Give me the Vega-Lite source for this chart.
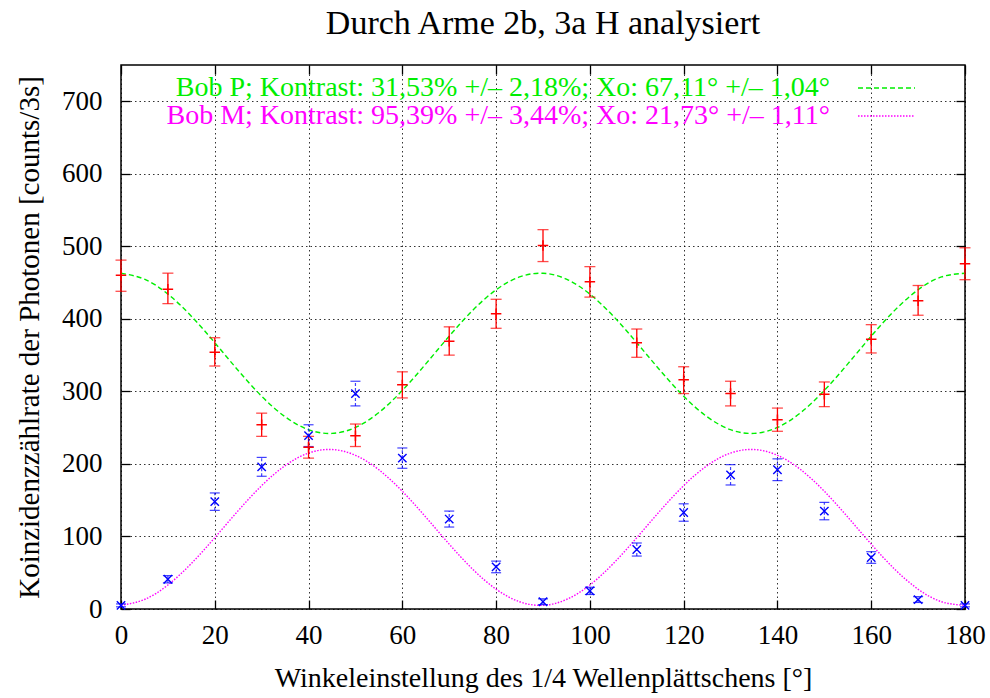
{
  "$schema": "https://vega.github.io/schema/vega-lite/v6.json",
  "width": 844,
  "height": 544,
  "autosize": {"type": "none"},
  "padding": {"left": 121, "top": 65, "right": 25, "bottom": 89},
  "background": "white",
  "title": {
    "text": "Durch Arme 2b, 3a H analysiert",
    "font": "Liberation Serif",
    "fontSize": 34,
    "fontWeight": "normal",
    "color": "black",
    "anchor": "middle",
    "baseline": "top",
    "offset": 23
  },
  "config": {
    "font": "Liberation Serif",
    "view": {"stroke": "black", "strokeWidth": 1.5},
    "scale": {"continuousPadding": 0},
    "axis": {
      "labelFont": "Liberation Serif",
      "labelFontSize": 27,
      "labelColor": "black",
      "labelFlush": false,
      "titleFont": "Liberation Serif",
      "titleFontSize": 28,
      "titleFontWeight": "normal",
      "titleColor": "black",
      "domain": false,
      "tickColor": "black",
      "tickSize": -9,
      "tickWidth": 1.3,
      "gridColor": "black",
      "gridDash": [1.5, 3],
      "gridOpacity": 0.8,
      "gridWidth": 1
    }
  },
  "datasets": {
    "pts": [
      {"angle": 0, "series": "P", "value": 460, "lo": 438, "hi": 481},
      {"angle": 10, "series": "P", "value": 441, "lo": 421, "hi": 463},
      {"angle": 20, "series": "P", "value": 354, "lo": 335, "hi": 374},
      {"angle": 30, "series": "P", "value": 254, "lo": 238, "hi": 270},
      {"angle": 40, "series": "P", "value": 223, "lo": 208, "hi": 238},
      {"angle": 50, "series": "P", "value": 239, "lo": 224, "hi": 255},
      {"angle": 60, "series": "P", "value": 309, "lo": 291, "hi": 327},
      {"angle": 70, "series": "P", "value": 369, "lo": 350, "hi": 389},
      {"angle": 80, "series": "P", "value": 407, "lo": 387, "hi": 427},
      {"angle": 90, "series": "P", "value": 501, "lo": 479, "hi": 523},
      {"angle": 100, "series": "P", "value": 451, "lo": 430, "hi": 472},
      {"angle": 110, "series": "P", "value": 367, "lo": 347, "hi": 386},
      {"angle": 120, "series": "P", "value": 316, "lo": 297, "hi": 334},
      {"angle": 130, "series": "P", "value": 297, "lo": 280, "hi": 314},
      {"angle": 140, "series": "P", "value": 261, "lo": 245, "hi": 277},
      {"angle": 150, "series": "P", "value": 296, "lo": 279, "hi": 313},
      {"angle": 160, "series": "P", "value": 372, "lo": 353, "hi": 392},
      {"angle": 170, "series": "P", "value": 425, "lo": 405, "hi": 446},
      {"angle": 180, "series": "P", "value": 476, "lo": 454, "hi": 498},
      {"angle": 0, "series": "M", "value": 5, "lo": 3, "hi": 7},
      {"angle": 10, "series": "M", "value": 41, "lo": 36, "hi": 46},
      {"angle": 20, "series": "M", "value": 148, "lo": 136, "hi": 160},
      {"angle": 30, "series": "M", "value": 196, "lo": 183, "hi": 209},
      {"angle": 40, "series": "M", "value": 239, "lo": 224, "hi": 254},
      {"angle": 50, "series": "M", "value": 297, "lo": 280, "hi": 314},
      {"angle": 60, "series": "M", "value": 208, "lo": 194, "hi": 222},
      {"angle": 70, "series": "M", "value": 124, "lo": 113, "hi": 135},
      {"angle": 80, "series": "M", "value": 58, "lo": 50, "hi": 66},
      {"angle": 90, "series": "M", "value": 10, "lo": 6, "hi": 14},
      {"angle": 100, "series": "M", "value": 25, "lo": 20, "hi": 30},
      {"angle": 110, "series": "M", "value": 82, "lo": 73, "hi": 91},
      {"angle": 120, "series": "M", "value": 133, "lo": 121, "hi": 145},
      {"angle": 130, "series": "M", "value": 185, "lo": 171, "hi": 199},
      {"angle": 140, "series": "M", "value": 192, "lo": 177, "hi": 207},
      {"angle": 150, "series": "M", "value": 135, "lo": 123, "hi": 147},
      {"angle": 160, "series": "M", "value": 71, "lo": 63, "hi": 79},
      {"angle": 170, "series": "M", "value": 13, "lo": 9, "hi": 17},
      {"angle": 180, "series": "M", "value": 5, "lo": 3, "hi": 7}
    ],
    "fit": [
      {"angle": 0, "series": "P", "value": 462.9},
      {"angle": 5, "series": "P", "value": 454.7},
      {"angle": 10, "series": "P", "value": 434.1},
      {"angle": 15, "series": "P", "value": 403.7},
      {"angle": 20, "series": "P", "value": 367.1},
      {"angle": 25, "series": "P", "value": 328.8},
      {"angle": 30, "series": "P", "value": 293.3},
      {"angle": 35, "series": "P", "value": 265.0},
      {"angle": 40, "series": "P", "value": 247.2},
      {"angle": 45, "series": "P", "value": 242.1},
      {"angle": 50, "series": "P", "value": 250.3},
      {"angle": 55, "series": "P", "value": 270.9},
      {"angle": 60, "series": "P", "value": 301.3},
      {"angle": 65, "series": "P", "value": 337.9},
      {"angle": 70, "series": "P", "value": 376.2},
      {"angle": 75, "series": "P", "value": 411.7},
      {"angle": 80, "series": "P", "value": 440.1},
      {"angle": 85, "series": "P", "value": 457.8},
      {"angle": 90, "series": "P", "value": 462.9},
      {"angle": 95, "series": "P", "value": 454.7},
      {"angle": 100, "series": "P", "value": 434.1},
      {"angle": 105, "series": "P", "value": 403.7},
      {"angle": 110, "series": "P", "value": 367.1},
      {"angle": 115, "series": "P", "value": 328.8},
      {"angle": 120, "series": "P", "value": 293.3},
      {"angle": 125, "series": "P", "value": 265.0},
      {"angle": 130, "series": "P", "value": 247.2},
      {"angle": 135, "series": "P", "value": 242.1},
      {"angle": 140, "series": "P", "value": 250.3},
      {"angle": 145, "series": "P", "value": 270.9},
      {"angle": 150, "series": "P", "value": 301.3},
      {"angle": 155, "series": "P", "value": 337.9},
      {"angle": 160, "series": "P", "value": 376.2},
      {"angle": 165, "series": "P", "value": 411.7},
      {"angle": 170, "series": "P", "value": 440.1},
      {"angle": 175, "series": "P", "value": 457.8},
      {"angle": 180, "series": "P", "value": 462.9},
      {"angle": 0, "series": "M", "value": 5.1},
      {"angle": 5, "series": "M", "value": 13.1},
      {"angle": 10, "series": "M", "value": 33.1},
      {"angle": 15, "series": "M", "value": 62.7},
      {"angle": 20, "series": "M", "value": 98.3},
      {"angle": 25, "series": "M", "value": 135.6},
      {"angle": 30, "series": "M", "value": 170.1},
      {"angle": 35, "series": "M", "value": 197.7},
      {"angle": 40, "series": "M", "value": 215.0},
      {"angle": 45, "series": "M", "value": 219.9},
      {"angle": 50, "series": "M", "value": 211.9},
      {"angle": 55, "series": "M", "value": 191.9},
      {"angle": 60, "series": "M", "value": 162.3},
      {"angle": 65, "series": "M", "value": 126.7},
      {"angle": 70, "series": "M", "value": 89.4},
      {"angle": 75, "series": "M", "value": 54.9},
      {"angle": 80, "series": "M", "value": 27.3},
      {"angle": 85, "series": "M", "value": 10.0},
      {"angle": 90, "series": "M", "value": 5.1},
      {"angle": 95, "series": "M", "value": 13.1},
      {"angle": 100, "series": "M", "value": 33.1},
      {"angle": 105, "series": "M", "value": 62.7},
      {"angle": 110, "series": "M", "value": 98.3},
      {"angle": 115, "series": "M", "value": 135.6},
      {"angle": 120, "series": "M", "value": 170.1},
      {"angle": 125, "series": "M", "value": 197.7},
      {"angle": 130, "series": "M", "value": 215.0},
      {"angle": 135, "series": "M", "value": 219.9},
      {"angle": 140, "series": "M", "value": 211.9},
      {"angle": 145, "series": "M", "value": 191.9},
      {"angle": 150, "series": "M", "value": 162.3},
      {"angle": 155, "series": "M", "value": 126.7},
      {"angle": 160, "series": "M", "value": 89.4},
      {"angle": 165, "series": "M", "value": 54.9},
      {"angle": 170, "series": "M", "value": 27.3},
      {"angle": 175, "series": "M", "value": 10.0},
      {"angle": 180, "series": "M", "value": 5.1}
    ]
  },
  "resolve": {"axis": {"x": "independent", "y": "independent"}},
  "layer": [
    {
      "data": {"name": "fit"},
      "mark": {"type": "line", "interpolate": "natural", "strokeWidth": 1.4, "clip": true},
      "encoding": {
        "x": {
          "field": "angle", "type": "quantitative",
          "scale": {"domain": [0, 180], "nice": false, "zero": false, "padding": 0},
          "axis": {
            "values": [0, 20, 40, 60, 80, 100, 120, 140, 160, 180],
            "grid": true,
            "labelFlush": false,
            "labelFont": "Liberation Serif",
            "titleFont": "Liberation Serif",
            "labelFontSize": 27,
            "titleFontSize": 28,
            "labelPadding": 22,
            "titlePadding": 16,
            "title": "Winkeleinstellung des 1/4 Wellenplättschens [°]"
          }
        },
        "y": {
          "field": "value", "type": "quantitative",
          "scale": {"domain": [0, 750], "nice": false, "zero": false, "padding": 0},
          "axis": {
            "values": [0, 100, 200, 300, 400, 500, 600, 700],
            "grid": true,
            "labelFlush": false,
            "labelFont": "Liberation Serif",
            "titleFont": "Liberation Serif",
            "labelFontSize": 27,
            "titleFontSize": 29,
            "labelPadding": 28,
            "titlePadding": 17,
            "title": "Koinzidenzzählrate der Photonen [counts/3s]"
          }
        },
        "stroke": {
          "field": "series", "type": "nominal",
          "scale": {"domain": ["P", "M"], "range": ["#00ee00", "#ff00ff"]},
          "legend": {
            "orient": "none",
            "legendX": 751.5,
            "legendY": 9,
            "title": null,
            "symbolType": "M-3,0L3,0",
            "symbolSize": 361,
            "symbolStrokeWidth": 1.4,
            "labelFont": "Liberation Serif",
            "labelFontSize": 28,
            "labelAlign": "right",
            "labelOffset": -70.5,
            "labelLimit": 900,
            "rowPadding": -8,
            "labelExpr": "datum.value == 'P' ? 'Bob P; Kontrast: 31,53% +/– 2,18%; Xo: 67,11° +/– 1,04°' : 'Bob M; Kontrast: 95,39% +/– 3,44%; Xo: 21,73° +/– 1,11°'",
            "encode": {
              "labels": {"update": {"fill": {"signal": "datum.value == 'P' ? '#00ee00' : '#ff00ff'"}}}
            }
          }
        },
        "strokeDash": {
          "field": "series", "type": "nominal",
          "scale": {"domain": ["P", "M"], "range": [[5, 3], [1.5, 1.5]]}
        }
      }
    },
    {
      "data": {"name": "pts"},
      "transform": [{"filter": "datum.series == 'P'"}],
      "mark": {"type": "rule", "color": "#ff0000", "strokeWidth": 1.3},
      "encoding": {
        "x": {"field": "angle", "type": "quantitative", "axis": null},
        "y": {"field": "lo", "type": "quantitative", "axis": null},
        "y2": {"field": "hi"}
      }
    },
    {
      "data": {"name": "pts"},
      "transform": [{"filter": "datum.series == 'P'"}],
      "mark": {"type": "tick", "orient": "horizontal", "color": "#ff0000", "size": 11, "thickness": 1.3},
      "encoding": {
        "x": {"field": "angle", "type": "quantitative", "axis": null},
        "y": {"field": "lo", "type": "quantitative", "axis": null}
      }
    },
    {
      "data": {"name": "pts"},
      "transform": [{"filter": "datum.series == 'P'"}],
      "mark": {"type": "tick", "orient": "horizontal", "color": "#ff0000", "size": 11, "thickness": 1.3},
      "encoding": {
        "x": {"field": "angle", "type": "quantitative", "axis": null},
        "y": {"field": "hi", "type": "quantitative", "axis": null}
      }
    },
    {
      "data": {"name": "pts"},
      "transform": [{"filter": "datum.series == 'M'"}],
      "mark": {"type": "rule", "color": "#0000ff", "strokeWidth": 1.2, "strokeDash": [3, 2], "opacity": 0.75},
      "encoding": {
        "x": {"field": "angle", "type": "quantitative", "axis": null},
        "y": {"field": "lo", "type": "quantitative", "axis": null},
        "y2": {"field": "hi"}
      }
    },
    {
      "data": {"name": "pts"},
      "transform": [{"filter": "datum.series == 'M'"}],
      "mark": {"type": "tick", "orient": "horizontal", "color": "#0000ff", "size": 10, "thickness": 1.2, "strokeDash": [3, 2], "opacity": 0.75},
      "encoding": {
        "x": {"field": "angle", "type": "quantitative", "axis": null},
        "y": {"field": "lo", "type": "quantitative", "axis": null}
      }
    },
    {
      "data": {"name": "pts"},
      "transform": [{"filter": "datum.series == 'M'"}],
      "mark": {"type": "tick", "orient": "horizontal", "color": "#0000ff", "size": 10, "thickness": 1.2, "strokeDash": [3, 2], "opacity": 0.75},
      "encoding": {
        "x": {"field": "angle", "type": "quantitative", "axis": null},
        "y": {"field": "hi", "type": "quantitative", "axis": null}
      }
    },
    {
      "data": {"name": "pts"},
      "transform": [{"filter": "datum.series == 'P'"}],
      "mark": {"type": "point", "shape": "M-1,0L1,0M0,-1L0,1", "filled": false, "stroke": "#ff0000", "strokeWidth": 1.5, "size": 110, "opacity": 1},
      "encoding": {
        "x": {"field": "angle", "type": "quantitative", "axis": null},
        "y": {"field": "value", "type": "quantitative", "axis": null}
      }
    },
    {
      "data": {"name": "pts"},
      "transform": [{"filter": "datum.series == 'M'"}],
      "mark": {"type": "point", "shape": "M-1,-1L1,1M1,-1L-1,1", "filled": false, "stroke": "#0000ff", "strokeWidth": 1.4, "size": 70, "opacity": 1},
      "encoding": {
        "x": {"field": "angle", "type": "quantitative",
              "axis": {"orient": "top", "values": [0, 20, 40, 60, 80, 100, 120, 140, 160, 180], "labels": false, "grid": false, "title": null}},
        "y": {"field": "value", "type": "quantitative",
              "axis": {"orient": "right", "values": [0, 100, 200, 300, 400, 500, 600, 700], "labels": false, "grid": false, "title": null}}
      }
    }
  ]
}
